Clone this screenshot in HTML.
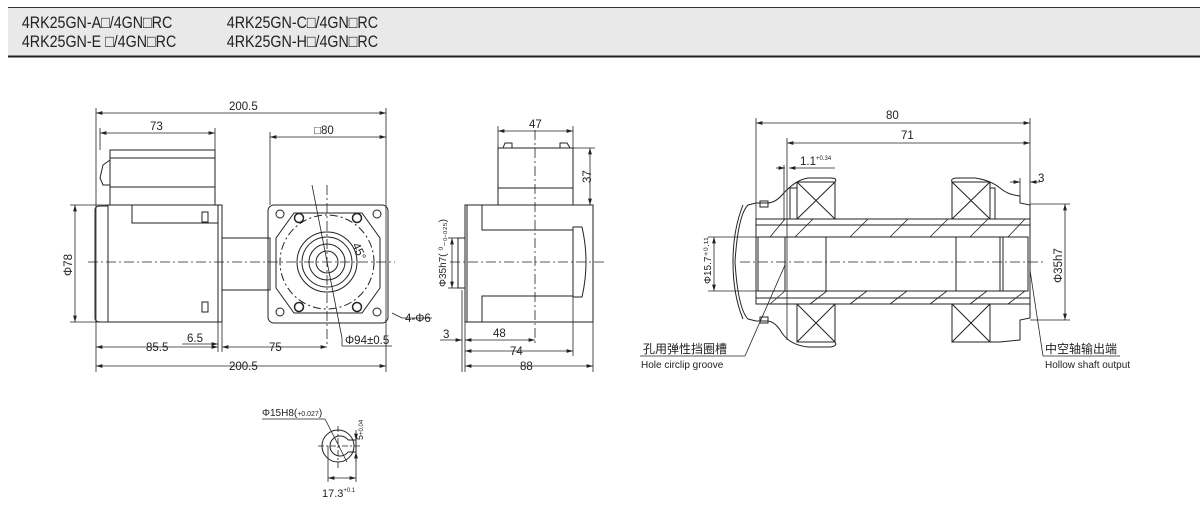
<!DOCTYPE html>
<html><head><meta charset="utf-8"><style>
html,body{margin:0;padding:0;background:#fff;width:1200px;height:517px;overflow:hidden}
svg{display:block}
text{font-family:"Liberation Sans","Noto Sans CJK SC",sans-serif;fill:#222}
</style></head><body>
<svg width="1200" height="517" viewBox="0 0 1200 517" xmlns="http://www.w3.org/2000/svg">
<defs>
<marker id="a" viewBox="0 0 10 6" refX="10" refY="3" markerWidth="8" markerHeight="5" orient="auto-start-reverse"><path d="M0,0L10,3L0,6z" fill="#222"/></marker>
</defs>
<!-- header -->
<rect x="8" y="7" width="1192" height="50" fill="#e9e9e9"/>
<line x1="8" y1="7.5" x2="1200" y2="7.5" stroke="#333" stroke-width="1"/>
<line x1="8" y1="56.5" x2="1200" y2="56.5" stroke="#222" stroke-width="2"/>
<g font-size="17" transform="scale(0.84,1)">
<text x="26" y="28">4RK25GN-A□/4GN□RC</text>
<text x="26" y="47">4RK25GN-E □/4GN□RC</text>
<text x="270" y="28">4RK25GN-C□/4GN□RC</text>
<text x="270" y="47">4RK25GN-H□/4GN□RC</text>
</g>

<g fill="none" stroke="#222" stroke-width="1">
<!-- LEFT VIEW -->
<rect x="110" y="150" width="105" height="55"/>
<line x1="110" y1="158" x2="215" y2="158"/>
<line x1="110" y1="187" x2="215" y2="187"/>
<path d="M110,160 L103,165 L100,178 L103,185 L110,185"/>
<path d="M95,210 Q95,206 100,206 L108,206 L108,322 L100,322 Q95,322 95,318 Z"/>
<rect x="108" y="205" width="110" height="117"/>
<rect x="132" y="205" width="86" height="18"/>
<rect x="218" y="205" width="4" height="117"/>
<rect x="222" y="238" width="48" height="52"/>
<rect x="268" y="205" width="120" height="118" rx="6"/>
<circle cx="327" cy="262" r="30"/><circle cx="327" cy="262" r="25"/><circle cx="327" cy="262" r="18"/><circle cx="327" cy="262" r="11"/>
<circle cx="327" cy="262" r="47" stroke-dasharray="8,3,2,3"/>
<path d="M294,213 L362,213 L380,238 L380,288 L362,313 L294,313 L276,288 L276,238 Z"/>
<circle cx="280" cy="214" r="4"/><circle cx="377" cy="214" r="4"/><circle cx="280" cy="312" r="4"/><circle cx="377" cy="312" r="4"/>
<circle cx="299" cy="218" r="4.5" stroke-width="1.5"/><circle cx="357" cy="218" r="4.5" stroke-width="1.5"/><circle cx="299" cy="307" r="4.5" stroke-width="1.5"/><circle cx="357" cy="307" r="4.5" stroke-width="1.5"/>
<rect x="202" y="212" width="6" height="10"/><rect x="202" y="302" width="6" height="10"/>
<g stroke-dasharray="10,3,2,3" stroke-width="0.8">
<line x1="88" y1="262" x2="395" y2="262"/><line x1="327" y1="185" x2="327" y2="345"/>
<line x1="450" y1="262" x2="605" y2="262"/><line x1="535" y1="130" x2="535" y2="345"/>
<line x1="740" y1="262" x2="1045" y2="262"/>
</g>
<!-- left dims -->
<g stroke-width="0.8">
<line x1="96" y1="108" x2="96" y2="372"/><line x1="386" y1="108" x2="386" y2="372"/>
<line x1="100" y1="128" x2="100" y2="150"/><line x1="215" y1="128" x2="215" y2="150"/>
<line x1="270" y1="132" x2="270" y2="205"/>
<line x1="70" y1="205" x2="108" y2="205"/><line x1="70" y1="322" x2="108" y2="322"/>
<line x1="218" y1="322" x2="218" y2="352"/><line x1="222" y1="322" x2="222" y2="352"/>
<line x1="96" y1="113" x2="386" y2="113" marker-start="url(#a)" marker-end="url(#a)"/>
<line x1="100" y1="133" x2="215" y2="133" marker-start="url(#a)" marker-end="url(#a)"/>
<line x1="270" y1="137" x2="386" y2="137" marker-start="url(#a)" marker-end="url(#a)"/>
<line x1="75" y1="205" x2="75" y2="322" marker-start="url(#a)" marker-end="url(#a)"/>
<line x1="96" y1="347" x2="218" y2="347" marker-start="url(#a)" marker-end="url(#a)"/>
<line x1="222" y1="347" x2="327" y2="347" marker-start="url(#a)" marker-end="url(#a)"/>
<line x1="182" y1="344" x2="218" y2="344" marker-end="url(#a)"/>
<line x1="96" y1="366" x2="386" y2="366" marker-start="url(#a)" marker-end="url(#a)"/>
<line x1="312" y1="185" x2="342" y2="338"/>
<line x1="342" y1="338" x2="342" y2="346"/><line x1="342" y1="346" x2="392" y2="346"/>
<line x1="392" y1="313" x2="402" y2="318"/><line x1="402" y1="318" x2="432" y2="318"/>
<!-- side dims -->
<line x1="498" y1="126" x2="498" y2="148"/><line x1="573" y1="126" x2="573" y2="148"/>
<line x1="498" y1="131" x2="573" y2="131" marker-start="url(#a)" marker-end="url(#a)"/>
<line x1="573" y1="148" x2="595" y2="148"/><line x1="590" y1="148" x2="590" y2="205" marker-start="url(#a)" marker-end="url(#a)"/>
<line x1="448" y1="238" x2="458" y2="238"/><line x1="448" y1="288" x2="458" y2="288"/>
<line x1="452" y1="238" x2="452" y2="288" marker-start="url(#a)" marker-end="url(#a)"/>
<line x1="462" y1="290" x2="462" y2="372"/><line x1="465" y1="322" x2="465" y2="372"/>
<line x1="573" y1="297" x2="573" y2="356"/><line x1="593" y1="322" x2="593" y2="372"/>
<line x1="440" y1="340" x2="462" y2="340" marker-end="url(#a)"/>
<line x1="465" y1="340" x2="535" y2="340" marker-start="url(#a)" marker-end="url(#a)"/>
<line x1="465" y1="351" x2="573" y2="351" marker-start="url(#a)" marker-end="url(#a)"/>
<line x1="465" y1="366" x2="593" y2="366" marker-start="url(#a)" marker-end="url(#a)"/>
<!-- right dims -->
<line x1="756" y1="118" x2="756" y2="220"/><line x1="1030" y1="118" x2="1030" y2="218"/>
<line x1="787" y1="138" x2="787" y2="340"/>
<line x1="756" y1="123" x2="1030" y2="123" marker-start="url(#a)" marker-end="url(#a)"/>
<line x1="787" y1="143" x2="1030" y2="143" marker-start="url(#a)" marker-end="url(#a)"/>
<line x1="776" y1="168" x2="785" y2="168" marker-end="url(#a)"/><line x1="789" y1="168" x2="835" y2="168" marker-start="url(#a)"/>
<line x1="784" y1="165" x2="784" y2="220"/>
<line x1="1010" y1="182" x2="1020" y2="182" marker-end="url(#a)"/><line x1="1030" y1="182" x2="1040" y2="182" marker-start="url(#a)"/>
<line x1="1020" y1="178" x2="1020" y2="200"/>
<line x1="1030" y1="204" x2="1070" y2="204"/><line x1="1030" y1="320" x2="1070" y2="320"/>
<line x1="1065" y1="204" x2="1065" y2="320" marker-start="url(#a)" marker-end="url(#a)"/>
<line x1="708" y1="237" x2="760" y2="237"/><line x1="708" y1="291" x2="760" y2="291"/>
<line x1="714" y1="237" x2="714" y2="291" marker-start="url(#a)" marker-end="url(#a)"/>
<line x1="785" y1="265" x2="745" y2="356"/><line x1="640" y1="356" x2="745" y2="356"/>
<line x1="1030" y1="270" x2="1043" y2="356"/><line x1="1043" y1="356" x2="1120" y2="356"/>
</g>

<!-- SIDE VIEW -->
<rect x="498" y="148" width="75" height="57"/>
<path d="M503,148 L505,143 L512,143 L512,148 M560,148 L560,143 L567,143 L570,148"/>
<line x1="498" y1="188" x2="573" y2="188"/>
<rect x="465" y="205" width="128" height="117"/>
<line x1="467" y1="205" x2="467" y2="322"/>
<path d="M482,205 L482,230 L573,230 M482,322 L482,296 L573,296"/>
<rect x="458" y="238" width="7" height="50"/>
<path d="M573,227 L582,227 Q590,262 582,297 L573,297 Z"/>

<!-- RIGHT SECTION -->
<rect x="756" y="219" width="274" height="85"/>
<line x1="756" y1="225" x2="1030" y2="225"/><line x1="756" y1="298" x2="1030" y2="298"/>
<rect x="758" y="237" width="270" height="54"/>
<line x1="785" y1="237" x2="785" y2="291"/>
<rect x="826" y="237" width="130" height="54"/>
<line x1="1000" y1="237" x2="1000" y2="291"/><line x1="1003" y1="237" x2="1003" y2="291"/>
<g stroke-width="0.8">
<path d="M770,237 L785,219 M795,237 L813,219 M850,237 L868,219 M890,237 L908,219 M930,237 L948,219 M970,237 L988,219 M1008,237 L1025,219"/>
<path d="M770,304 L785,291 M810,304 L827,291 M850,304 L867,291 M890,304 L907,291 M930,304 L947,291 M970,304 L987,291 M1008,304 L1025,291"/>
</g>
<rect x="797" y="182" width="38" height="37"/><path d="M797,182 L835,219 M835,182 L797,219"/>
<rect x="797" y="304" width="38" height="38"/><path d="M797,304 L835,342 M835,304 L797,342"/>
<rect x="952" y="182" width="38" height="37"/><path d="M952,182 L990,219 M990,182 L952,219"/>
<rect x="952" y="304" width="38" height="38"/><path d="M952,304 L990,342 M990,304 L952,342"/>
<path d="M835,182 Q838,178 830,178 L808,178 Q795,180 782,195 Q775,203 767,203 L756,203 L748,205 Q738,215 735,262 Q738,309 748,319 L756,321 L767,321 Q775,321 782,333 Q790,345 808,347 L830,347 Q838,346 835,342"/>
<path d="M743,205 Q733,230 733,262 Q733,295 743,319"/>
<path d="M952,182 Q950,178 958,178 L975,178 Q990,180 1000,188 Q1008,195 1020,196 L1020,203 L1030,205 L1030,219 M1030,304 L1030,318 L1020,320 L1020,340 L1000,342 L990,342"/>
<rect x="760" y="201" width="8" height="6"/><rect x="760" y="317" width="8" height="6"/>
<rect x="790" y="188" width="7" height="31"/><rect x="990" y="188" width="5" height="31"/>

<!-- small keyway view -->
<circle cx="338" cy="446" r="16"/>
<path d="M348,440 A10,10 0 1 0 348,452"/><line x1="348" y1="440" x2="356" y2="440"/><line x1="348" y1="452" x2="356" y2="452"/><line x1="356" y1="440" x2="356" y2="452"/>
<g stroke-width="0.8">
<line x1="318" y1="446" x2="362" y2="446" stroke-dasharray="6,2,2,2"/>
<line x1="338" y1="426" x2="338" y2="468" stroke-dasharray="6,2,2,2"/>
<line x1="328" y1="446" x2="328" y2="482"/><line x1="356" y1="452" x2="356" y2="482"/>
<line x1="328" y1="478" x2="356" y2="478" marker-start="url(#a)" marker-end="url(#a)"/>
<line x1="356" y1="430" x2="356" y2="440" marker-end="url(#a)"/><line x1="356" y1="462" x2="356" y2="452" marker-end="url(#a)"/>
<line x1="262" y1="419" x2="325" y2="419"/><line x1="325" y1="419" x2="347" y2="462"/>
</g>
</g>

<!-- labels -->
<g font-size="11.5">
<text x="229" y="110">200.5</text>
<text x="150" y="130">73</text>
<text x="314" y="134">□80</text>
<text x="146" y="351">85.5</text>
<text x="187" y="342">6.5</text>
<text x="269" y="351">75</text>
<text x="229" y="370">200.5</text>
<text x="405" y="322">4-Φ6</text>
<text x="345" y="344">Φ94±0.5</text>
<text x="0" y="0" transform="translate(72,276) rotate(-90)">Φ78</text>
<text x="0" y="0" transform="translate(352,245) rotate(65)">45°</text>
<text x="529" y="128">47</text>
<text x="0" y="0" transform="translate(591,183) rotate(-90)">37</text>
<text x="0" y="0" transform="translate(446,287) rotate(-90)" font-size="10">Φ35h7( ⁰₋₀.₀₂₅)</text>
<text x="443" y="338">3</text>
<text x="493" y="337">48</text>
<text x="510" y="355">74</text>
<text x="520" y="370">88</text>
<text x="886" y="119">80</text>
<text x="901" y="139">71</text>
<text x="800" y="165">1.1<tspan font-size="6" dy="-5">+0.34</tspan></text>
<text x="1038" y="182">3</text>
<text x="0" y="0" transform="translate(1062,283) rotate(-90)">Φ35h7</text>
<text x="0" y="0" transform="translate(711,284) rotate(-90)" font-size="10">Φ15.7⁺⁰·¹¹</text>
<text x="643" y="353" font-size="12">孔用弹性挡圈槽</text>
<text x="641" y="368" font-size="10">Hole circlip groove</text>
<text x="1045" y="353" font-size="12">中空轴输出端</text>
<text x="1045" y="368" font-size="10">Hollow shaft output</text>
<text x="262" y="416" font-size="10">Φ15H8(<tspan font-size="7">+0.027</tspan>)</text>
<text x="0" y="0" transform="translate(363,440) rotate(-90)" font-size="9">5<tspan font-size="6">+0.04</tspan></text>
<text x="322" y="497" font-size="11">17.3<tspan font-size="6" dy="-5">+0.1</tspan></text>
</g>
</svg>
</body></html>
